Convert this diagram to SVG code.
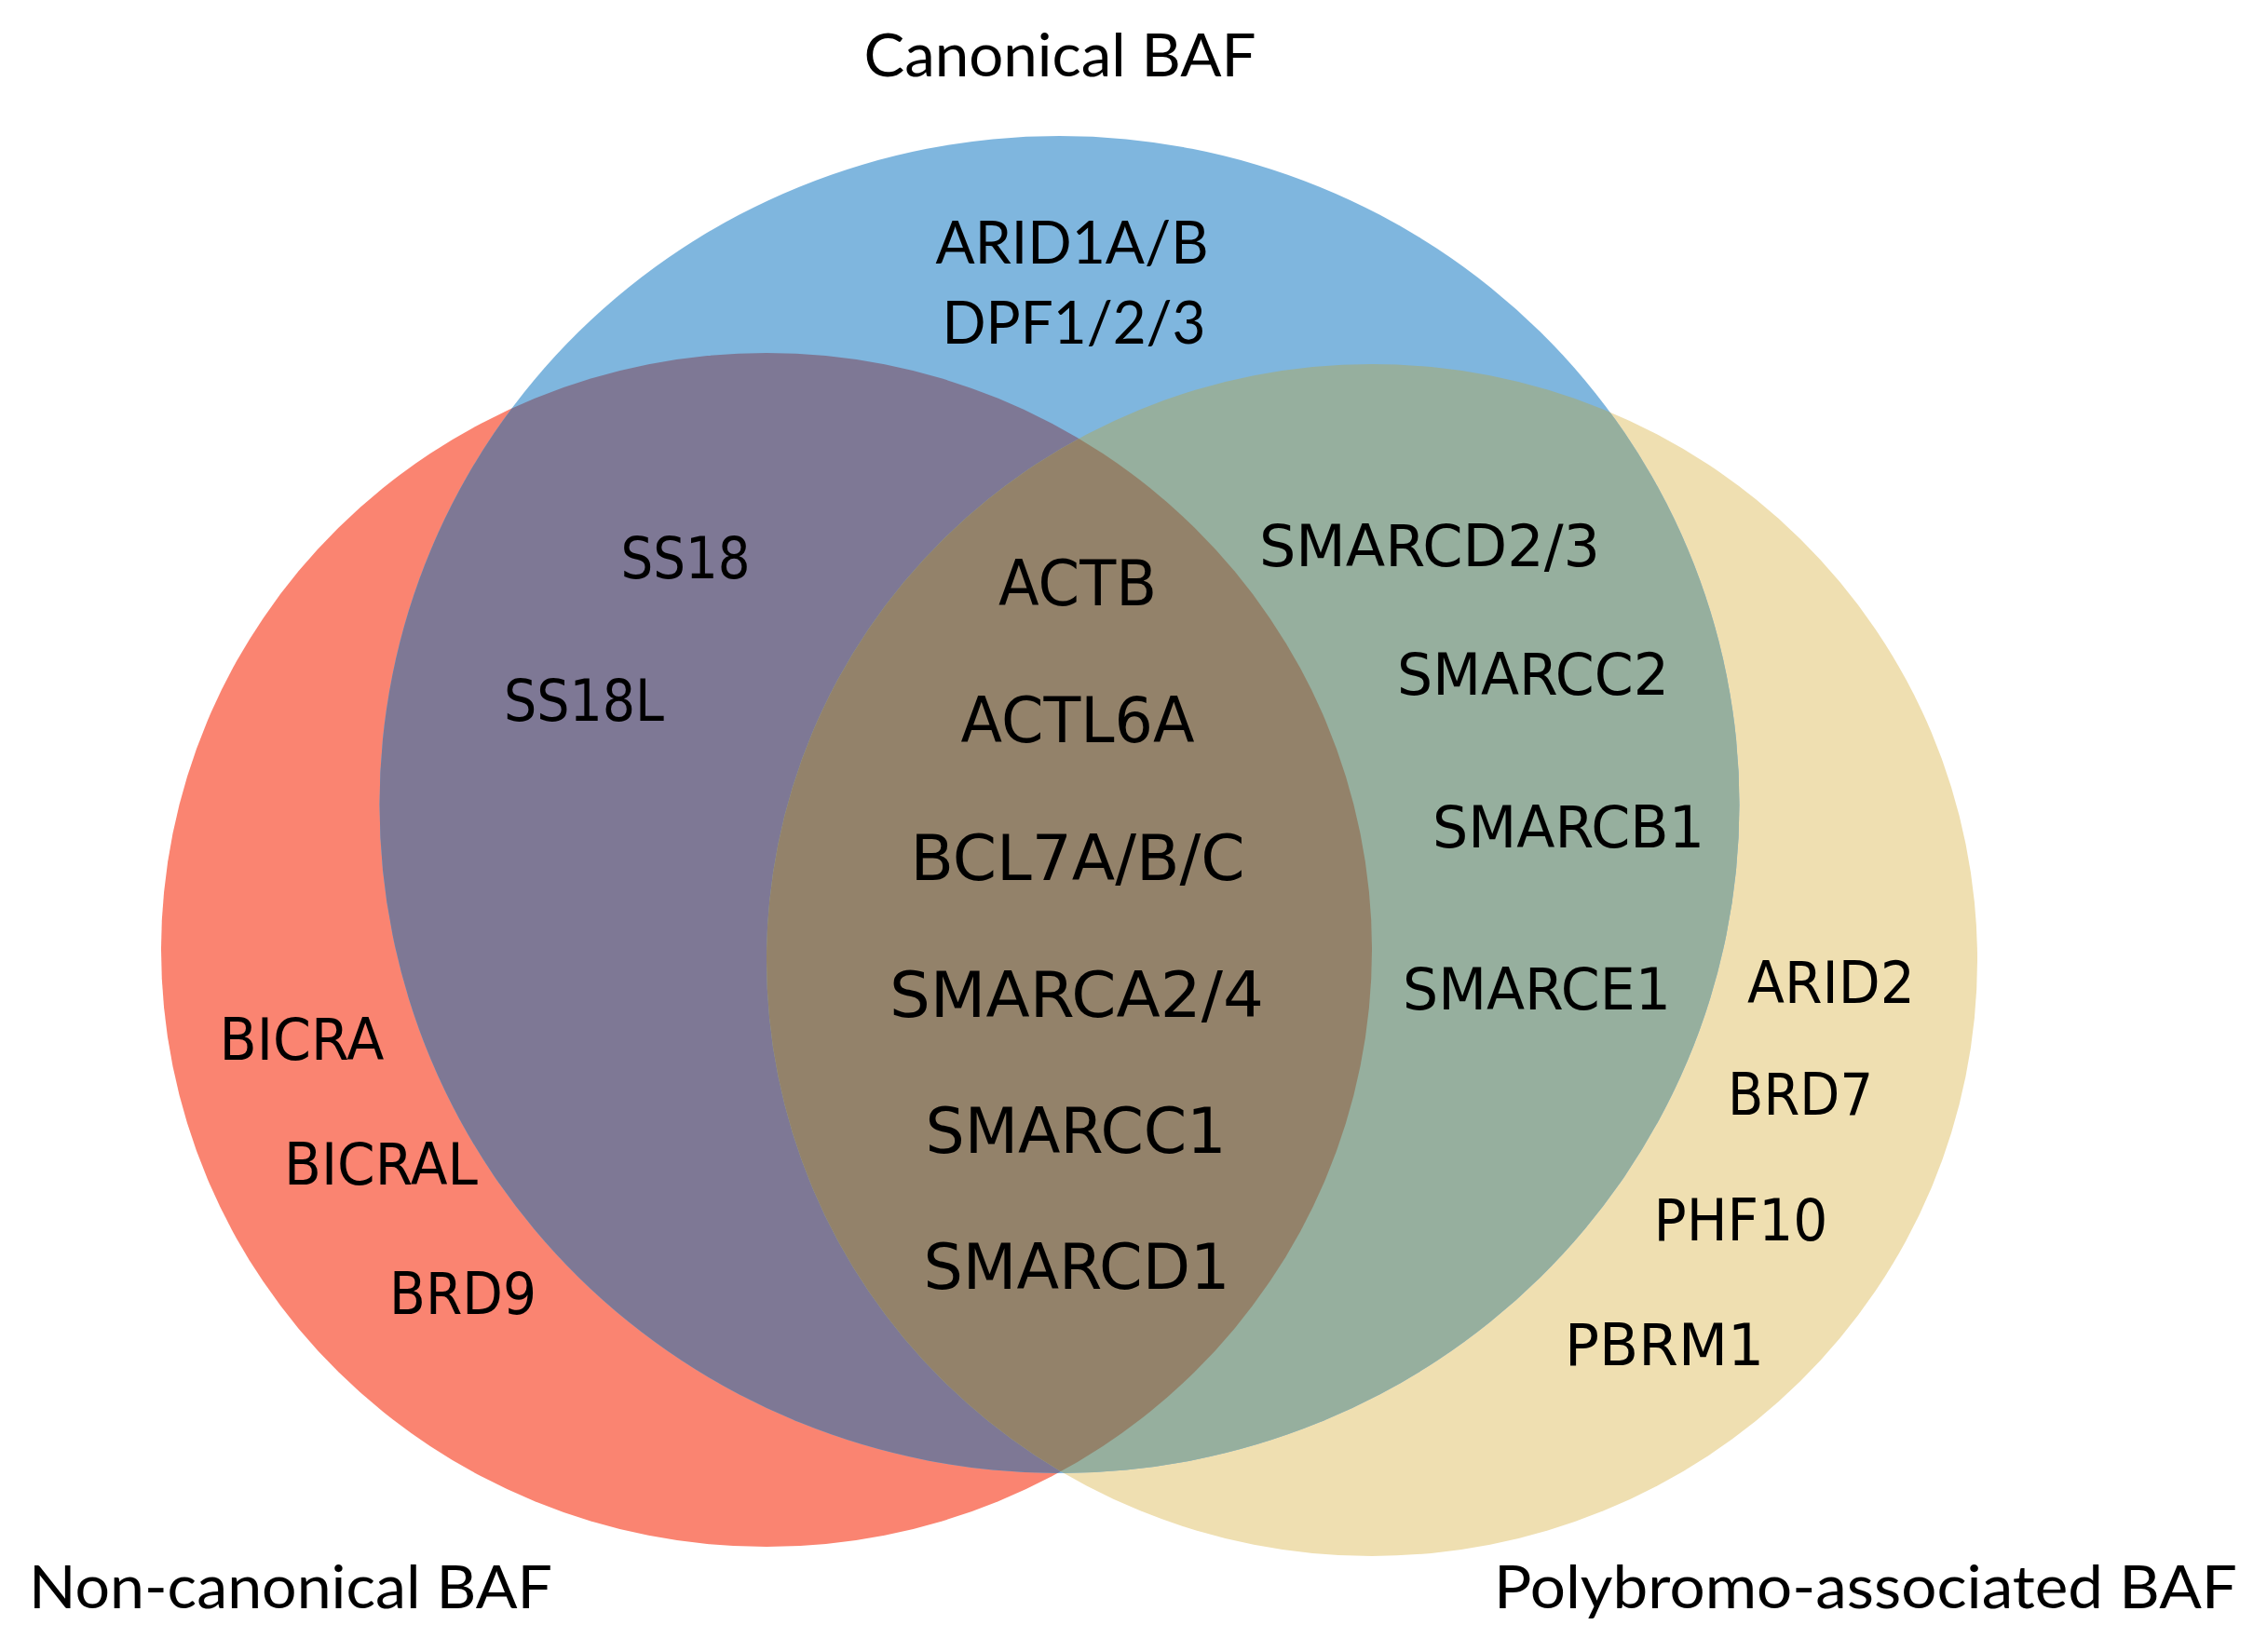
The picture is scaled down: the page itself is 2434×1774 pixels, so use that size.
<svg xmlns="http://www.w3.org/2000/svg" width="2434" height="1774" viewBox="0 0 2434 1774">
<style>
.title{font-family:Lato,"Liberation Sans",sans-serif;font-size:63px;fill:#000;text-anchor:middle}
.lab{font-family:"DejaVu Sans","Liberation Sans",sans-serif;font-size:62px;fill:#000;text-anchor:middle}
.big{font-family:"DejaVu Sans","Liberation Sans",sans-serif;font-size:68px;fill:#000;text-anchor:middle}
</style>
<defs>
<ellipse id="eB" cx="1137.5" cy="864" rx="730" ry="718"/>
<ellipse id="eR" cx="823" cy="1020" rx="650" ry="641"/>
<ellipse id="eY" cx="1473" cy="1031" rx="650" ry="640"/>
<clipPath id="cR"><use href="#eR"/></clipPath>
<clipPath id="cY"><use href="#eY"/></clipPath>
</defs>
<rect width="2434" height="1774" fill="#fff"/>
<g id="set-noncanonical"><use href="#eR" fill="#FA8471"/></g>
<g id="set-polybromo"><use href="#eY" fill="#EFDFB1"/></g>
<g id="set-canonical"><use href="#eB" fill="#7FB6DE"/></g>
<g id="overlap-canonical-noncanonical"><use href="#eB" fill="#7E7895" clip-path="url(#cR)"/></g>
<g id="overlap-canonical-polybromo"><use href="#eB" fill="#96AF9E" clip-path="url(#cY)"/></g>
<g id="overlap-all" clip-path="url(#cR)"><use href="#eB" fill="#93826A" clip-path="url(#cY)"/></g>
<g id="titles">
<text class="title" x="1138" y="82" textLength="421" lengthAdjust="spacingAndGlyphs">Canonical BAF</text>
<text class="title" x="312" y="1727" textLength="562" lengthAdjust="spacingAndGlyphs">Non-canonical BAF</text>
<text class="title" x="2003" y="1727" textLength="798" lengthAdjust="spacingAndGlyphs">Polybromo-associated BAF</text>
</g>
<g id="labels-canonical">
<text class="title" x="1151" y="283" textLength="293" lengthAdjust="spacingAndGlyphs">ARID1A/B</text>
<text class="title" x="1153" y="369" textLength="283" lengthAdjust="spacingAndGlyphs">DPF1/2/3</text>
</g>
<g id="labels-canonical-noncanonical">
<text class="lab" x="736" y="621" textLength="139" lengthAdjust="spacingAndGlyphs">SS18</text>
<text class="lab" x="627" y="774" textLength="172" lengthAdjust="spacingAndGlyphs">SS18L</text>
</g>
<g id="labels-noncanonical">
<text class="lab" x="324" y="1138" textLength="177" lengthAdjust="spacingAndGlyphs">BICRA</text>
<text class="lab" x="409" y="1272" textLength="208" lengthAdjust="spacingAndGlyphs">BICRAL</text>
<text class="lab" x="497" y="1411" textLength="158" lengthAdjust="spacingAndGlyphs">BRD9</text>
</g>
<g id="labels-all">
<text class="big" x="1157" y="650" textLength="170" lengthAdjust="spacingAndGlyphs">ACTB</text>
<text class="big" x="1157" y="797" textLength="251" lengthAdjust="spacingAndGlyphs">ACTL6A</text>
<text class="big" x="1157" y="945" textLength="359" lengthAdjust="spacingAndGlyphs">BCL7A/B/C</text>
<text class="big" x="1156" y="1092" textLength="402" lengthAdjust="spacingAndGlyphs">SMARCA2/4</text>
<text class="big" x="1155" y="1238" textLength="323" lengthAdjust="spacingAndGlyphs">SMARCC1</text>
<text class="big" x="1156" y="1384" textLength="329" lengthAdjust="spacingAndGlyphs">SMARCD1</text>
</g>
<g id="labels-canonical-polybromo">
<text class="lab" x="1535" y="608" textLength="366" lengthAdjust="spacingAndGlyphs">SMARCD2/3</text>
<text class="lab" x="1646" y="746" textLength="292" lengthAdjust="spacingAndGlyphs">SMARCC2</text>
<text class="lab" x="1684" y="910" textLength="292" lengthAdjust="spacingAndGlyphs">SMARCB1</text>
<text class="lab" x="1650" y="1084" textLength="288" lengthAdjust="spacingAndGlyphs">SMARCE1</text>
</g>
<g id="labels-polybromo">
<text class="lab" x="1966" y="1077" textLength="180" lengthAdjust="spacingAndGlyphs">ARID2</text>
<text class="lab" x="1933" y="1197" textLength="156" lengthAdjust="spacingAndGlyphs">BRD7</text>
<text class="lab" x="1869" y="1332" textLength="187" lengthAdjust="spacingAndGlyphs">PHF10</text>
<text class="lab" x="1787" y="1466" textLength="214" lengthAdjust="spacingAndGlyphs">PBRM1</text>
</g>
</svg>
